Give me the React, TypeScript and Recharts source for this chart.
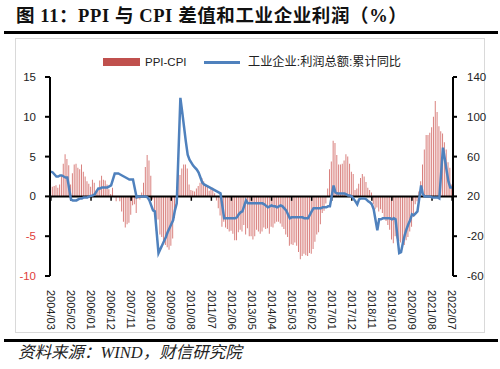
import React from 'react';
import { ComposedChart, Bar, Line, XAxis, YAxis, ReferenceLine } from 'recharts';

// First month of the series
const startYear = 2004;
const startMonth = 3;

// PPI-CPI (%), monthly 2004/03 - 2022/07
const ppiCpiDiff: number[] = [
  // 2004 Mar-Dec
  1.0, 1.2, 1.3, 1.4, 1.1, 1.5, 2.7, 4.1, 5.3, 4.7,
  // 2005
  3.9, 1.5, 2.9, 4.0, 4.1, 3.6, 3.4, 4.0, 3.1, 2.5, 1.9, 1.6,
  // 2006
  1.2, 2.1, 1.7, 0.7, 1.0, 2.0, 2.6, 2.1, 2.0, 1.5, 0.9, 0.3,
  // 2007
  1.1, -0.1, -0.6, -0.1, -0.6, -1.9, -3.2, -3.9, -3.5, -3.3, -2.3, -1.1,
  // 2008
  -1.0, -2.1, -0.3, -0.4, 0.5, 1.7, 3.7, 5.2, 4.5, 2.6, -0.4, -2.3,
  // 2009
  -4.3, -2.9, -4.8, -5.1, -5.8, -6.1, -6.4, -6.7, -6.2, -5.3, -2.7, -0.2,
  // 2010
  2.8, 2.7, 3.5, 4.0, 4.0, 3.5, 1.5, 0.8, 0.7, 0.6, 1.0, 1.3,
  // 2011
  1.7, 2.3, 1.9, 1.5, 1.3, 0.7, 1.0, 1.1, 0.4, -0.5, -1.5, -2.4,
  // 2012
  -3.8, -3.2, -3.9, -4.1, -4.4, -4.3, -4.7, -5.5, -5.5, -4.5, -4.2, -4.4,
  // 2013
  -3.6, -4.8, -4.0, -5.0, -5.0, -5.4, -5.0, -4.2, -4.4, -4.7, -4.4, -3.9,
  // 2014
  -4.1, -4.0, -4.7, -3.8, -3.9, -3.4, -3.2, -3.2, -3.4, -3.8, -4.1, -4.8,
  // 2015
  -5.1, -6.2, -6.0, -6.1, -5.8, -6.2, -7.0, -7.9, -7.5, -7.2, -7.4, -7.5,
  // 2016
  -7.1, -7.2, -6.6, -5.7, -4.8, -4.5, -3.5, -2.1, -1.8, -0.9, 1.0, 3.4,
  // 2017
  4.4, 7.0, 6.7, 5.2, 4.0, 4.0, 4.1, 4.5, 5.3, 5.0, 4.1, 3.1,
  // 2018
  2.8, 0.8, 1.0, 1.6, 2.3, 2.8, 2.5, 1.8, 1.1, 0.8, 0.5, -1.0,
  // 2019
  -1.6, -1.4, -1.9, -1.6, -2.1, -2.7, -3.1, -3.6, -4.2, -5.4, -5.9, -5.0,
  // 2020
  -5.3, -5.6, -5.8, -6.4, -6.1, -5.5, -5.1, -4.4, -3.8, -2.6, -1.0, -0.6,
  // 2021
  0.6, 1.9, 4.0, 5.9, 7.7, 7.7, 8.0, 8.7, 10.0, 12.0, 10.6, 8.8,
  // 2022 Jan-Jul
  8.2, 7.9, 6.8, 5.9, 4.3, 3.6, 1.5,
];

// 工业企业:利润总额:累计同比 (%), monthly (January not published -> null)
const profitYoY: (number | null)[] = [
  // 2004 Mar-Dec
  45, 44, 42, 40, 40, 41, 41, 40, 39, 39,
  // 2005
  null, 17, 16, 16, 16, 17, 18, 18, 19, 19, 19, 20,
  // 2006
  null, 21, 22, 25, 28, 28, 29, 29, 29, 29, 30, 31,
  // 2007
  null, 43, 43, 43, 42, 41, 40, 39, 38, 37, 37, 37,
  // 2008
  null, 19, 20, 20, 20, 20, 20, 19, 16, 11, 6, 5,
  // 2009
  null, -37, -33, -29, -25, -21, -16, -12, -8, -4, 6, 13,
  // 2010
  null, 119, 105, 90, 75, 62, 57, 54, 51, 49, 47, 44,
  // 2011
  null, 34, 32, 31, 30, 29, 28, 27, 26, 25, 24, 23,
  // 2012
  null, -2, -2, -2, -2, -2, -2, -2, -1, 2, 4, 5,
  // 2013
  null, 16, 13, 13, 13, 13, 13, 13, 13, 13, 13, 12,
  // 2014
  null, 9, 10, 11, 10, 10, 9, 10, 11, 10, 8, 6,
  // 2015
  null, -2, -1, -1, -1, -1, -1, -1, -1, -2, -2, -2,
  // 2016
  null, 5, 8, 8, 8, 8, 8, 9, 9, 9, 10, 10,
  // 2017
  null, 31, 24, 23, 23, 23, 23, 23, 22, 21, 21, 20,
  // 2018
  null, 15, 12, 17, 18, 18, 18, 17, 15, 14, 12, 7,
  // 2019
  null, -14, -3, -3, -2, -2, -2, -2, -2, -3, -2, -3,
  // 2020
  null, -37, -36, -27, -19, -13, -8, -4, 2, 1, 3, 5,
  // 2021
  null, 31, 22, 20, 20, 20, 20, 19, 19, 19, 19, 18,
  // 2022 Jan-Jul
  null, 69, 58, 46, 35, 29, 29,
];

const tickLabels = [
  '2004/03', '2005/02', '2006/01', '2006/12', '2007/11', '2008/10', '2009/09',
  '2010/08', '2011/07', '2012/06', '2013/05', '2014/04', '2015/03', '2016/02',
  '2017/01', '2017/12', '2018/11', '2019/10', '2020/09', '2021/08', '2022/07',
];
const leftTicks = [-10, -5, 0, 5, 10, 15];
const rightTicks = [-60, -40, -20, 0, 20, 40, 60, 80, 100, 120, 140];

const dates = ppiCpiDiff.map((_, i) => {
  const m0 = startMonth - 1 + i;
  const y = startYear + Math.floor(m0 / 12);
  const m = (m0 % 12) + 1;
  return `${y}/${String(m).padStart(2, '0')}`;
});
const data = dates.map((date, i) => ({ date, diff: ppiCpiDiff[i], profit: profitYoY[i] }));

const sans = '"Liberation Sans", "Noto Sans CJK SC", sans-serif';

const XTick = (props: any) => {
  const { x, y, payload } = props;
  return (
    <g transform={`translate(${x},${y})`}>
      <text transform="rotate(90)" x={0} y={0} dy="0.35em" textAnchor="start" fontSize={11} fill="#222" fontFamily={sans}>
        {payload.value}
      </text>
    </g>
  );
};

const LeftTick = (props: any) => {
  const { x, y, payload } = props;
  return (
    <text x={x} y={y} dy="0.35em" textAnchor="end" fontSize={11.5} fontFamily={sans} fill={payload.value < 0 ? '#E0403A' : '#222'}>
      {payload.value}
    </text>
  );
};

const RightTick = (props: any) => {
  const { x, y, payload } = props;
  return (
    <text x={x} y={y} dy="0.35em" textAnchor="start" fontSize={11.5} fontFamily={sans} fill="#222">
      {payload.value}
    </text>
  );
};

export default function App() {
  return (
    <div style={{ position: 'absolute', left: 0, top: 0, width: 500, height: 369, background: '#fff', overflow: 'hidden' }}>
      <div style={{ position: 'absolute', left: 16, top: 4, fontSize: 18.5, letterSpacing: 0.6, fontWeight: 'bold', fontFamily: '"Liberation Serif", "Noto Sans CJK SC", serif', whiteSpace: 'nowrap', lineHeight: '24px', color: '#111' }}>
        图 11：PPI 与 CPI 差值和工业企业利润（%）
      </div>
      <div style={{ position: 'absolute', left: 4, top: 31, width: 494, height: 3, background: '#000' }} />
      <div style={{ position: 'absolute', left: 15, top: 38, width: 470, height: 295, border: '1px solid #d9d9d9', boxSizing: 'border-box' }} />
      <div style={{ position: 'absolute', left: 4, top: 339, width: 494, height: 3, background: '#000' }} />
      <div style={{ position: 'absolute', left: 18, top: 342, fontSize: 16.5, fontStyle: 'italic', fontFamily: '"Liberation Serif", "Noto Sans CJK SC", serif', whiteSpace: 'nowrap', lineHeight: '22px', color: '#222' }}>
        资料来源：WIND，财信研究院
      </div>
      {/* legend */}
      <div style={{ position: 'absolute', left: 103, top: 58, width: 37, height: 8, background: '#C0504D' }} />
      <div style={{ position: 'absolute', left: 145, top: 54, fontSize: 11.5, fontFamily: sans, lineHeight: '16px', color: '#222', whiteSpace: 'nowrap' }}>PPI-CPI</div>
      <div style={{ position: 'absolute', left: 204, top: 61, width: 36, height: 3, background: '#4F81BD' }} />
      <div style={{ position: 'absolute', left: 248, top: 54, fontSize: 12.2, fontFamily: sans, lineHeight: '16px', color: '#222', whiteSpace: 'nowrap' }}>工业企业:利润总额:累计同比</div>

      <div style={{ position: 'absolute', left: 0, top: 0 }}>
        <ComposedChart width={500} height={369} data={data} margin={{ top: 77, right: 7, bottom: 33, left: 8 }} barCategoryGap={0}>
          <XAxis dataKey="date" interval={10} tickLine={false} axisLine={false} height={60} tick={<XTick />} tickMargin={8} />
          <YAxis yAxisId="left" orientation="left" width={42} domain={[-10, 15]} ticks={leftTicks} allowDataOverflow
            axisLine={{ stroke: '#000', strokeWidth: 2 }} tickLine={{ stroke: '#000', strokeWidth: 2 }} tickSize={5} tickMargin={9} tick={<LeftTick />} />
          <YAxis yAxisId="right" orientation="right" width={40} domain={[-60, 140]} ticks={rightTicks} allowDataOverflow
            axisLine={{ stroke: '#000', strokeWidth: 2 }} tickLine={{ stroke: '#000', strokeWidth: 2 }} tickSize={4} tickMargin={10} tick={<RightTick />} />
          <Bar yAxisId="left" dataKey="diff" fill="#D9817E" barSize={1} isAnimationActive={false} />
          <ReferenceLine yAxisId="left" y={0} stroke="#000" strokeWidth={2} />
          {tickLabels.map((l) => (
            <ReferenceLine key={l} yAxisId="left" segment={[{ x: l, y: 0 }, { x: l, y: -0.55 }]} stroke="#000" strokeWidth={1.5} />
          ))}
          <Line yAxisId="right" type="linear" dataKey="profit" stroke="#4F81BD" strokeWidth={2.5} dot={false} connectNulls isAnimationActive={false} />
        </ComposedChart>
      </div>
    </div>
  );
}
